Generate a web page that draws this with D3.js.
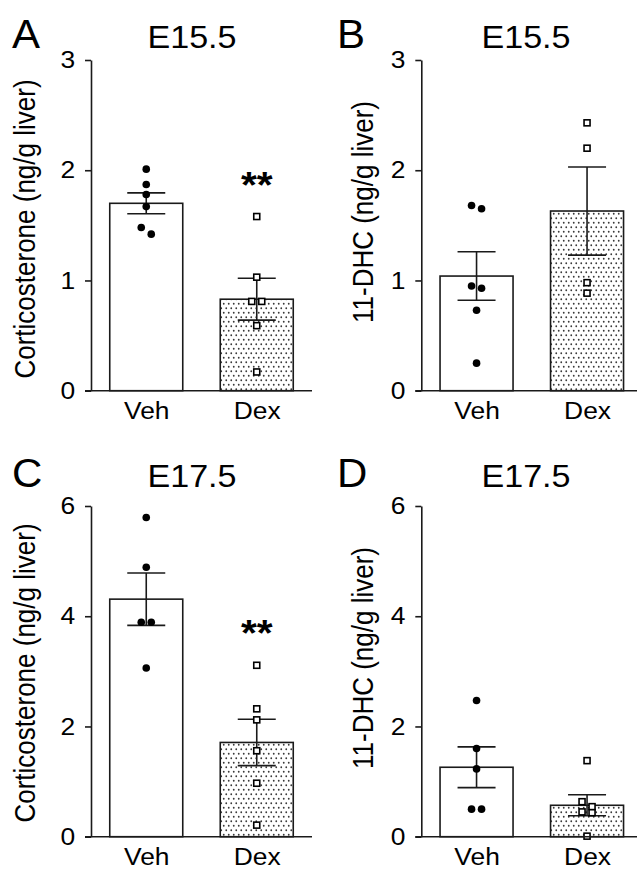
<!DOCTYPE html>
<html>
<head>
<meta charset="utf-8">
<script src="https://cdn.jsdelivr.net/npm/d3@7"></script>
<style>
  body { margin: 0; background: #fff; }
  text { font-family: "Liberation Sans", Arial, sans-serif; fill: #000; }
</style>
</head>
<body>
<svg id="chart" width="637" height="870"></svg>
<script>
var groups = ["Veh", "Dex"];

// A: corticosterone, E15.5
var cortE15Mean = [1.70, 0.83];
var cortE15Sem = [0.095, 0.19];
var cortE15Veh = [2.01, 1.87, 1.78, 1.67, 1.48, 1.42];
var cortE15Dex = [1.58, 1.03, 0.81, 0.81, 0.59, 0.17];

// B: 11-DHC, E15.5
var dhcE15Mean = [1.04, 1.63];
var dhcE15Sem = [0.22, 0.40];
var dhcE15Veh = [1.68, 1.65, 0.95, 0.93, 0.73, 0.25];
var dhcE15Dex = [2.43, 2.20, 0.98, 0.885];

// C: corticosterone, E17.5
var cortE17Mean = [4.31, 1.71];
var cortE17Sem = [0.475, 0.42];
var cortE17Veh = [5.79, 4.89, 3.89, 3.89, 3.06];
var cortE17Dex = [3.11, 2.32, 2.12, 1.56, 0.97, 0.21];

// D: 11-DHC, E17.5
var dhcE17Mean = [1.26, 0.57];
var dhcE17Sem = [0.37, 0.19];
var dhcE17Veh = [2.47, 1.60, 1.23, 0.50, 0.50];
var dhcE17Dex = [1.38, 0.635, 0.545, 0.45, 0.435, 0.01];

var ticksE15 = [0, 1, 2, 3];
var ticksE17 = [0, 2, 4, 6];

var svg = d3.select("#chart");
var barW = 73, capW = 38, stretch = "scale(1.1,1)";

// dotted fill for the Dex bars
var pat = svg.append("defs").append("pattern")
    .attr("id", "dots")
    .attr("patternUnits", "userSpaceOnUse")
    .attr("width", 5).attr("height", 9);
pat.append("rect").attr("width", 5).attr("height", 9).attr("fill", "#fff");
pat.append("circle").attr("cx", 1.25).attr("cy", 2.25).attr("r", 0.9).attr("fill", "#3a3a3a");
pat.append("circle").attr("cx", 3.75).attr("cy", 6.75).attr("r", 0.9).attr("fill", "#3a3a3a");

// put points that sit on nearly the same height side by side
function spread(values, y, cx) {
  var sorted = values.slice().sort(function(a, b) { return b - a; });
  var out = [], row = [];
  function flush() {
    row.forEach(function(v, i) {
      out.push({v: v, x: cx + (i - (row.length - 1) / 2) * 10});
    });
    row = [];
  }
  sorted.forEach(function(v) {
    if (row.length && y(v) - y(row[0]) >= 8) flush();
    row.push(v);
  });
  flush();
  return out;
}

function drawPanel(p) {
  var g = svg.append("g");
  var y = d3.scaleLinear().domain([0, p.ticks[p.ticks.length - 1]]).range([p.bottom, p.top]);
  var x = d3.scalePoint().domain(groups).range([p.axisX, p.axisX + 221]).padding(0.5);

  // bars
  g.selectAll("rect.bar").data(groups).join("rect")
      .attr("class", "bar")
      .attr("x", function(d) { return x(d) - barW / 2; })
      .attr("width", barW)
      .attr("y", function(d, i) { return y(p.mean[i]); })
      .attr("height", function(d, i) { return y(0) - y(p.mean[i]); })
      .attr("fill", function(d, i) { return i ? "url(#dots)" : "#fff"; })
      .attr("stroke", "#1a1a1a")
      .attr("stroke-width", 1.6);

  // error bars (mean +/- sem)
  groups.forEach(function(d, i) {
    var lo = y(p.mean[i] - p.sem[i]), hi = y(p.mean[i] + p.sem[i]);
    var eb = g.append("g").attr("stroke", "#1a1a1a").attr("stroke-width", 1.6);
    eb.append("line").attr("x1", x(d)).attr("x2", x(d)).attr("y1", lo).attr("y2", hi);
    [lo, hi].forEach(function(yy) {
      eb.append("line").attr("x1", x(d) - capW / 2).attr("x2", x(d) + capW / 2)
          .attr("y1", yy).attr("y2", yy);
    });
  });

  // individual values
  g.selectAll("circle.pt").data(spread(p.veh, y, x("Veh"))).join("circle")
      .attr("class", "pt")
      .attr("cx", function(d) { return d.x; })
      .attr("cy", function(d) { return y(d.v); })
      .attr("r", 3.8)
      .attr("fill", "#000");
  g.selectAll("rect.pt").data(spread(p.dex, y, x("Dex"))).join("rect")
      .attr("class", "pt")
      .attr("x", function(d) { return d.x - 3; })
      .attr("y", function(d) { return y(d.v) - 3; })
      .attr("width", 6).attr("height", 6)
      .attr("fill", "#fff")
      .attr("stroke", "#000")
      .attr("stroke-width", 1.6);

  // y axis
  var ya = g.append("g")
      .attr("transform", "translate(" + p.axisX + ",0)")
      .call(d3.axisLeft(y).tickValues(p.ticks).tickFormat(d3.format("d"))
          .tickSize(6).tickSizeOuter(0).tickPadding(8.5));
  ya.selectAll("path, line").attr("stroke", "#1a1a1a").attr("stroke-width", 1.6);
  ya.selectAll("text").style("font-size", "24px").style("font-family", null)
      .attr("transform", stretch);

  // x axis
  g.append("line")
      .attr("x1", p.axisX - 6).attr("x2", p.xEnd)
      .attr("y1", y(0)).attr("y2", y(0))
      .attr("stroke", "#1a1a1a").attr("stroke-width", 1.6);
  var xa = g.append("g")
      .attr("transform", "translate(0," + y(0) + ")")
      .call(d3.axisBottom(x).tickSize(0).tickPadding(11));
  xa.select(".domain").remove();
  xa.selectAll("text").style("font-size", "24px").style("font-family", null)
      .attr("transform", stretch);

  // y label
  g.append("text")
      .attr("transform", "translate(" + p.labelX + "," + p.labelY + ") rotate(-90) scale(1,1.1)")
      .attr("text-anchor", "middle")
      .style("font-size", "26px")
      .text(p.label);

  // title and panel letter
  g.append("text")
      .attr("transform", "translate(" + p.titleX + "," + p.titleY + ") " + stretch)
      .attr("text-anchor", "middle")
      .style("font-size", "31px")
      .text(p.title);
  g.append("text")
      .attr("transform", "translate(" + p.letterX + "," + p.titleY + ") scale(1.05,1)")
      .style("font-size", "40px")
      .text(p.letter);

  if (p.star) {
    g.append("text")
        .attr("transform", "translate(" + x("Dex") + "," + (y(d3.max(p.dex)) - 19) + ") " + stretch)
        .attr("text-anchor", "middle")
        .style("font-size", "37px")
        .style("font-weight", "bold")
        .text("**");
  }
}

drawPanel({letter: "A", title: "E15.5", label: "Corticosterone (ng/g liver)",
  mean: cortE15Mean, sem: cortE15Sem, veh: cortE15Veh, dex: cortE15Dex, ticks: ticksE15, star: true,
  axisX: 91, xEnd: 312, top: 60, bottom: 390.7,
  titleX: 192, titleY: 48, letterX: 12, labelX: 35, labelY: 229});

drawPanel({letter: "B", title: "E15.5", label: "11-DHC (ng/g liver)",
  mean: dhcE15Mean, sem: dhcE15Sem, veh: dhcE15Veh, dex: dhcE15Dex, ticks: ticksE15, star: false,
  axisX: 421.3, xEnd: 637, top: 60, bottom: 390.7,
  titleX: 526, titleY: 48, letterX: 337, labelX: 373, labelY: 212});

drawPanel({letter: "C", title: "E17.5", label: "Corticosterone (ng/g liver)",
  mean: cortE17Mean, sem: cortE17Sem, veh: cortE17Veh, dex: cortE17Dex, ticks: ticksE17, star: true,
  axisX: 91, xEnd: 312, top: 506, bottom: 836.7,
  titleX: 192, titleY: 487, letterX: 12, labelX: 35, labelY: 673});

drawPanel({letter: "D", title: "E17.5", label: "11-DHC (ng/g liver)",
  mean: dhcE17Mean, sem: dhcE17Sem, veh: dhcE17Veh, dex: dhcE17Dex, ticks: ticksE17, star: false,
  axisX: 421.3, xEnd: 637, top: 506, bottom: 836.7,
  titleX: 526, titleY: 487, letterX: 337, labelX: 373, labelY: 658});
</script>
</body>
</html>
